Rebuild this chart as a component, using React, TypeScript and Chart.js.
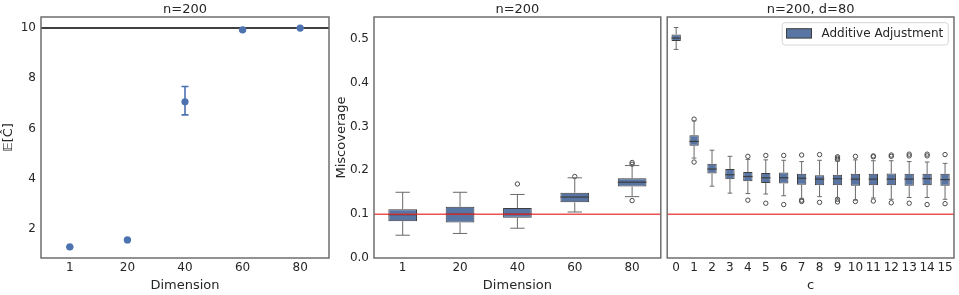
import React, { useEffect, useRef } from 'react';
import { Chart, registerables } from 'chart.js';
Chart.register(...registerables);

// ---------------- data ----------------
const dimensions = ['1', '20', '40', '60', '80'];
const meanC = [1.28, 1.56, 7.06, 9.93, 10.0];
const meanCLow = [1.27, 1.55, 6.54, 9.89, 9.99];
const meanCHigh = [1.29, 1.57, 7.67, 9.97, 10.01];
const leftTicks = [2, 4, 6, 8, 10];
const targetC = 10;

const miscoverageTicks = [0, 0.1, 0.2, 0.3, 0.4, 0.5];
const alphaLevel = 0.1;

// panel 2: miscoverage by dimension
const dimWhiskerLow = [0.052, 0.056, 0.068, 0.105, 0.14];
const dimQ1 = [0.084, 0.081, 0.092, 0.127, 0.163];
const dimMedian = [0.099, 0.1, 0.1, 0.139, 0.173];
const dimQ3 = [0.111, 0.117, 0.114, 0.149, 0.182];
const dimWhiskerHigh = [0.15, 0.15, 0.145, 0.183, 0.211];
const dimOutliers = [[], [], [0.169], [0.186], [0.218, 0.214, 0.131]];

// panel 3: miscoverage by c (n=200, d=80)
const cLabels = ['0', '1', '2', '3', '4', '5', '6', '7', '8', '9', '10', '11', '12', '13', '14', '15'];
const cWhiskerLow = [0.476, 0.228, 0.164, 0.148, 0.147, 0.146, 0.142, 0.135, 0.14, 0.135, 0.132, 0.137, 0.134, 0.138, 0.138, 0.134];
const cQ1 = [0.495, 0.256, 0.193, 0.18, 0.175, 0.171, 0.17, 0.167, 0.166, 0.166, 0.165, 0.166, 0.166, 0.165, 0.166, 0.165];
const cMedian = [0.502, 0.266, 0.203, 0.19, 0.186, 0.183, 0.183, 0.182, 0.18, 0.181, 0.18, 0.18, 0.18, 0.18, 0.181, 0.179];
const cQ3 = [0.51, 0.28, 0.215, 0.203, 0.196, 0.194, 0.195, 0.192, 0.189, 0.19, 0.192, 0.192, 0.193, 0.192, 0.192, 0.192];
const cWhiskerHigh = [0.526, 0.313, 0.246, 0.232, 0.225, 0.224, 0.223, 0.22, 0.223, 0.221, 0.224, 0.222, 0.222, 0.22, 0.219, 0.216];
const cOutliers = [
  [], [0.317, 0.219], [], [], [0.232, 0.132], [0.234, 0.125], [0.234, 0.122], [0.235, 0.132, 0.129],
  [0.236, 0.127], [0.231, 0.228, 0.225, 0.134, 0.128], [0.232, 0.129], [0.233, 0.231, 0.13],
  [0.235, 0.232, 0.126], [0.237, 0.233, 0.125], [0.237, 0.233, 0.122], [0.236, 0.124],
];

// ---------------- styles ----------------
const FONT = "'DejaVu Sans', sans-serif";
const TEXT = '#262626';
const BLUE = '#4c72b0';
const BOX = '#5875a4';
const EDGE = '#3d3d3d';
const WHISK = '#6a6a6a';
const SPINE = '#6e6e6e';
const RED = 'rgba(232, 40, 40, 0.8)';

const framePlugin = {
  id: 'frame',
  afterDraw(chart: any) {
    const { ctx, chartArea: a } = chart;
    ctx.save();
    ctx.strokeStyle = SPINE;
    ctx.lineWidth = 1.5;
    ctx.strokeRect(a.left, a.top, a.right - a.left, a.bottom - a.top);
    ctx.restore();
  },
};

function hLinePlugin(id: string, value: number, color: string, width: number, before: boolean) {
  const draw = (chart: any) => {
    const { ctx, chartArea: a, scales } = chart;
    const y = scales.y.getPixelForValue(value);
    ctx.save();
    ctx.strokeStyle = color;
    ctx.lineWidth = width;
    ctx.beginPath();
    ctx.moveTo(a.left, y);
    ctx.lineTo(a.right, y);
    ctx.stroke();
    ctx.restore();
  };
  return before ? { id, beforeDatasetsDraw: draw } : { id, afterDatasetsDraw: draw };
}

function boxPlugin(lo: number[], med: number[], hi: number[], q1: number[], q3: number[]) {
  return {
    id: 'boxes',
    afterDatasetsDraw(chart: any) {
      const { ctx, scales } = chart;
      const meta = chart.getDatasetMeta(0);
      ctx.save();
      meta.data.forEach((bar: any, i: number) => {
        const x = bar.x;
        const w = bar.width;
        const yl = scales.y.getPixelForValue(lo[i]);
        const yh = scales.y.getPixelForValue(hi[i]);
        const y1 = scales.y.getPixelForValue(q1[i]);
        const y3 = scales.y.getPixelForValue(q3[i]);
        const ym = scales.y.getPixelForValue(med[i]);
        ctx.strokeStyle = WHISK;
        ctx.lineWidth = 1;
        ctx.beginPath();
        ctx.moveTo(x, y3); ctx.lineTo(x, yh);
        ctx.moveTo(x, y1); ctx.lineTo(x, yl);
        ctx.moveTo(x - w / 4, yh); ctx.lineTo(x + w / 4, yh);
        ctx.moveTo(x - w / 4, yl); ctx.lineTo(x + w / 4, yl);
        ctx.stroke();
        ctx.strokeStyle = EDGE;
        ctx.lineWidth = 1.2;
        ctx.beginPath();
        ctx.moveTo(x - w / 2, ym); ctx.lineTo(x + w / 2, ym);
        ctx.stroke();
      });
      ctx.restore();
    },
  };
}

const legendBoxPlugin = {
  id: 'legendBox',
  afterDraw(chart: any) {
    const { ctx, chartArea: a } = chart;
    const ds = chart.data.datasets[0];
    ctx.save();
    ctx.font = `12px ${FONT}`;
    const tw = ctx.measureText(ds.label).width;
    const fw = 4.3 + 25 + 10 + tw + 5;
    const fh = 22.3;
    const fx = a.right - 5.7 - fw;
    const fy = a.top + 5.7;
    ctx.fillStyle = 'rgba(255,255,255,0.85)';
    ctx.strokeStyle = '#d6d6d6';
    ctx.lineWidth = 1;
    ctx.beginPath();
    (ctx as any).roundRect(fx, fy, fw, fh, 3);
    ctx.fill();
    ctx.stroke();
    ctx.fillStyle = ds.backgroundColor;
    ctx.strokeStyle = EDGE;
    ctx.fillRect(fx + 4.3, fy + 6, 25, 9.4);
    ctx.strokeRect(fx + 4.3, fy + 6, 25, 9.4);
    ctx.fillStyle = TEXT;
    ctx.textBaseline = 'middle';
    ctx.fillText(ds.label, fx + 4.3 + 25 + 10, fy + fh / 2 + 0.5);
    ctx.restore();
  },
};

function titleOpts(text: string) {
  return {
    display: true,
    text,
    fullSize: false,
    color: TEXT,
    font: { family: FONT, size: 13, weight: 'normal' as const },
    padding: { top: 1.4, bottom: 0 },
  };
}

function xScale(title: string) {
  return {
    type: 'category' as const,
    offset: true,
    grid: { display: false, drawTicks: false },
    border: { display: false },
    ticks: { color: TEXT, font: { family: FONT, size: 12 }, padding: 3, maxRotation: 0, autoSkip: false },
    title: { display: true, text: title, color: TEXT, font: { family: FONT, size: 13 }, padding: { top: 0, bottom: 2 } },
    afterFit: (s: any) => { s.height = 37; },
  };
}

function yScale(min: number, max: number, ticks: number[], title: string | null, fmt: (v: number) => string) {
  const shown = title !== null;
  return {
    type: 'linear' as const,
    display: shown,
    min,
    max,
    afterBuildTicks: (s: any) => { s.ticks = ticks.map((v) => ({ value: v })); },
    grid: { display: false, drawTicks: false },
    border: { display: false },
    ticks: { color: TEXT, font: { family: FONT, size: 12 }, padding: 5, callback: (v: any) => fmt(Number(v)) },
    title: { display: shown, text: title || '', color: TEXT, font: { family: FONT, size: 13 }, padding: { top: 1, bottom: 0 } },
    afterFit: (s: any) => { s.width = shown ? 41 : 0; },
  };
}

function boxChartConfig(
  labels: string[], lo: number[], q1: number[], med: number[], q3: number[], hi: number[], outliers: number[][],
  title: string, xTitle: string, yTitle: string | null, barPct: number, pad: { left: number; right: number }, legend: boolean,
) {
  const outlierPts = labels.flatMap((l, i) => outliers[i].map((y) => ({ x: l, y })));
  const plugins: any[] = [framePlugin, boxPlugin(lo, med, hi, q1, q3), hLinePlugin('alpha', alphaLevel, RED, 1.4, false)];
  if (legend) plugins.push(legendBoxPlugin);
  return {
    type: 'bar' as const,
    data: {
      labels,
      datasets: [
        {
          type: 'bar' as const,
          label: 'Additive Adjustment',
          data: q1.map((v, i) => [v, q3[i]]),
          backgroundColor: BOX,
          borderColor: EDGE,
          borderWidth: 1,
          borderSkipped: false,
          barPercentage: barPct,
          categoryPercentage: 1,
        },
        {
          type: 'line' as const,
          label: 'outliers',
          data: outlierPts as any,
          showLine: false,
          pointRadius: 2.2,
          pointHoverRadius: 2.2,
          pointBackgroundColor: 'rgba(255,255,255,0)',
          pointBorderColor: '#4a4a4a',
          pointBorderWidth: 1,
        },
      ],
    },
    options: {
      responsive: false,
      animation: false as const,
      devicePixelRatio: 1,
      layout: { padding: { left: pad.left, right: pad.right, top: 0, bottom: 0 } },
      plugins: { legend: { display: false }, tooltip: { enabled: false }, title: titleOpts(title) },
      scales: {
        x: xScale(xTitle),
        y: yScale(0, 0.55, miscoverageTicks, yTitle, (v) => v.toFixed(1)),
      },
    },
    plugins,
  };
}

function errorBarPlugin() {
  return {
    id: 'errbars',
    afterDatasetsDraw(chart: any) {
      const { ctx, scales } = chart;
      ctx.save();
      ctx.strokeStyle = BLUE;
      ctx.lineWidth = 1.6;
      dimensions.forEach((_, i) => {
        const x = scales.x.getPixelForValue(i);
        const yl = scales.y.getPixelForValue(meanCLow[i]);
        const yh = scales.y.getPixelForValue(meanCHigh[i]);
        ctx.beginPath();
        ctx.moveTo(x, yl); ctx.lineTo(x, yh);
        ctx.moveTo(x - 3.5, yl); ctx.lineTo(x + 3.5, yl);
        ctx.moveTo(x - 3.5, yh); ctx.lineTo(x + 3.5, yh);
        ctx.stroke();
      });
      ctx.restore();
    },
  };
}

function panel1Config() {
  return {
    type: 'line' as const,
    data: {
      labels: dimensions,
      datasets: [
        {
          label: 'E[C]',
          data: meanC,
          showLine: false,
          pointRadius: 3.6,
          pointHoverRadius: 3.6,
          pointBackgroundColor: BLUE,
          pointBorderColor: BLUE,
          pointBorderWidth: 0,
        },
      ],
    },
    options: {
      responsive: false,
      animation: false as const,
      devicePixelRatio: 1,
      layout: { padding: { left: 0, right: 4, top: 0, bottom: 0 } },
      plugins: { legend: { display: false }, tooltip: { enabled: false }, title: titleOpts('n=200') },
      scales: {
        x: xScale('Dimension'),
        y: yScale(0.84, 10.44, leftTicks, '𝔼[Ĉ]', (v) => String(v)),
      },
    },
    plugins: [framePlugin, hLinePlugin('target', targetC, '#000000', 1.5, true), errorBarPlugin()],
  };
}

function ChartCanvas({ left, width, make }: { left: number; width: number; make: () => any }) {
  const ref = useRef<HTMLCanvasElement | null>(null);
  useEffect(() => {
    if (!ref.current) return;
    const chart = new Chart(ref.current, make());
    return () => chart.destroy();
  }, []);
  return (
    <canvas
      ref={ref}
      width={width}
      height={295}
      style={{ position: 'absolute', left, top: 0, width, height: 295 }}
    />
  );
}

export default function App() {
  return (
    <div style={{ position: 'fixed', left: 0, top: 0, width: 959, height: 295, background: '#ffffff', overflow: 'hidden' }}>
      <ChartCanvas left={0} width={333} make={panel1Config} />
      <ChartCanvas
        left={333}
        width={331}
        make={() =>
          boxChartConfig(dimensions, dimWhiskerLow, dimQ1, dimMedian, dimQ3, dimWhiskerHigh, dimOutliers,
            'n=200', 'Dimension', 'Miscoverage', 0.5, { left: 0, right: 3 }, false)
        }
      />
      <ChartCanvas
        left={664}
        width={295}
        make={() =>
          boxChartConfig(cLabels, cWhiskerLow, cQ1, cMedian, cQ3, cWhiskerHigh, cOutliers,
            'n=200, d=80', 'c', null, 0.52, { left: 3, right: 5 }, true)
        }
      />
    </div>
  );
}
